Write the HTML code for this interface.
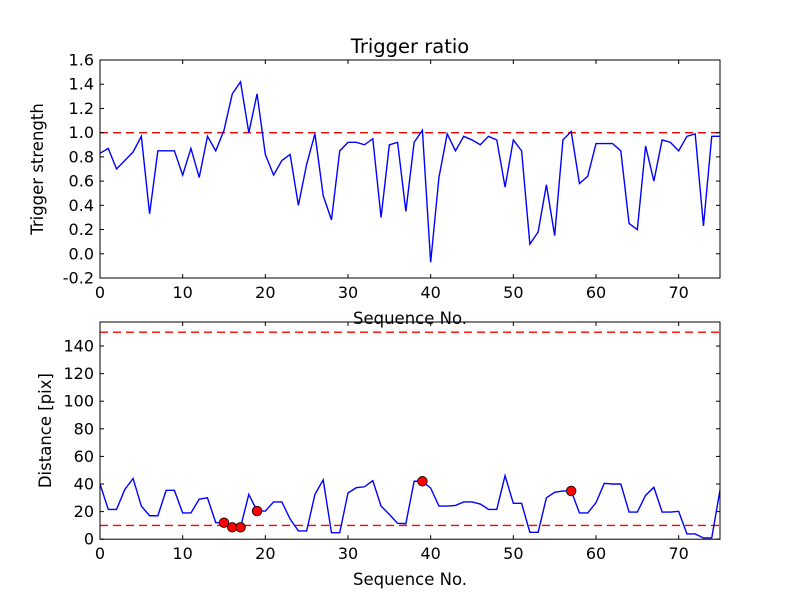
<!DOCTYPE html>
<html><head><meta charset="utf-8"><style>
html,body{margin:0;padding:0;background:#fff;}
svg text{font-family:"DejaVu Sans","Liberation Sans",sans-serif;fill:#000;}
</style></head><body>
<svg id="fig" width="800" height="600" viewBox="0 0 800 600" xmlns="http://www.w3.org/2000/svg">
<rect width="800" height="600" fill="#fff"/>
</svg>
<script>
const seq = Array.from({length:76},(_,i)=>i);
const strength = [0.83,0.87,0.70,0.77,0.84,0.97,0.33,0.85,0.85,0.85,0.65,0.87,0.63,0.97,0.85,1.02,1.32,1.42,1.0,1.32,0.82,0.65,0.77,0.82,0.40,0.74,0.99,0.48,0.28,0.85,0.92,0.92,0.90,0.95,0.30,0.90,0.92,0.35,0.92,1.02,-0.07,0.63,0.99,0.85,0.97,0.94,0.90,0.97,0.94,0.55,0.94,0.85,0.08,0.18,0.57,0.15,0.94,1.01,0.58,0.64,0.91,0.91,0.91,0.85,0.25,0.20,0.89,0.60,0.94,0.92,0.85,0.97,0.99,0.23,0.97,0.97];
const distance = [40,21.6,21.6,36,44,24,17,17,35.4,35.4,19,19,29,30,12,12,8.6,8.6,32.5,20.4,20.4,27,27,14.6,6,6,32.5,43,4.7,4.7,33.5,37.3,38,42.4,24,18,11.5,11.3,42,42,37,24,24,24.5,27,27,25.5,21.6,21.6,46,26,26,5,5,30,34,35,35,19,19,26.5,40.5,40,40,19.7,19.7,31.8,37.6,19.7,19.7,20.2,3.8,3.8,0.9,0.9,35.6];
const flagged = [15,16,17,19,39,57];
const topTicksY = [-0.2,0,0.2,0.4,0.6,0.8,1.0,1.2,1.4,1.6];
const botTicksY = [0,20,40,60,80,100,120,140];
const ticksX = [0,10,20,30,40,50,60,70];
const topThreshold = [1.0];
const botThresholds = [10,150];

const NS="http://www.w3.org/2000/svg";
const svg=document.getElementById('fig');
function mk(tag,attrs,parent){const e=document.createElementNS(NS,tag);for(const k in attrs)e.setAttribute(k,attrs[k]);(parent||svg).appendChild(e);return e;}

function panel(name,x0,x1,y0,y1,ymin,ymax,yticks,fmt,vals,thr,ylabel,title){
  const g=mk('g',{});
  
  
  const sx=v=>x0+(v-0)/(75-0)*(x1-x0);
  const sy=v=>y1-(v-ymin)/(ymax-ymin)*(y1-y0);
  const cp='cp-'+name;
  const cl=mk('clipPath',{id:cp},g);mk('rect',{x:x0,y:y0,width:x1-x0,height:y1-y0},cl);
  thr.forEach(t=>{const l=mk('line',{x1:x0,x2:x1,y1:sy(t),y2:sy(t),stroke:'#ff0000','stroke-width':1.4,'stroke-dasharray':'8,5'},g);
    
    });
  const p=mk('polyline',{points:vals.map((v,i)=>sx(seq[i])+','+sy(v)).join(' '),fill:'none',stroke:'#0000ff','stroke-width':1.4,'clip-path':'url(#'+cp+')'},g);
  
  
  mk('rect',{x:x0,y:y0,width:x1-x0,height:y1-y0,fill:'none',stroke:'#000','stroke-width':1},g);
  ticksX.forEach(t=>{const x=sx(t);
    mk('line',{x1:x,x2:x,y1:y1,y2:y1-4,stroke:'#000'},g);
    mk('line',{x1:x,x2:x,y1:y0,y2:y0+4,stroke:'#000'},g);
    const tx=mk('text',{x:x,y:y1+20,'text-anchor':'middle','font-size':16},g);tx.textContent=t;
    
    });
  yticks.forEach(t=>{const y=sy(t);
    mk('line',{x1:x0,x2:x0+4,y1:y,y2:y,stroke:'#000'},g);
    mk('line',{x1:x1,x2:x1-4,y1:y,y2:y,stroke:'#000'},g);
    const tx=mk('text',{x:x0-6,y:y+5.5,'text-anchor':'end','font-size':16},g);tx.textContent=fmt(t);
    
    });
  const xl=mk('text',{x:(x0+x1)/2,y:y1+46,'text-anchor':'middle','font-size':16.5},g);xl.textContent='Sequence No.';
  
  
  const yx=name==='top-panel'?43:51;
  const yl=mk('text',{x:yx,y:(y0+y1)/2,'text-anchor':'middle','font-size':16.5,transform:'rotate(-90 '+yx+' '+(y0+y1)/2+')'},g);yl.textContent=ylabel;
  
  
  if(title){const tt=mk('text',{x:(x0+x1)/2,y:y0-7,'text-anchor':'middle','font-size':19.5},g);tt.textContent=title;
    
    }
  return {sx,sy,g};
}
panel('top-panel',100,720,60,278,-0.2,1.6,topTicksY,t=>t.toFixed(1),strength,topThreshold,'Trigger strength','Trigger ratio');
const b=panel('bottom-panel',100,720,322,539.2,0,157.4,botTicksY,t=>String(t),distance,botThresholds,'Distance [pix]',null);
flagged.forEach(i=>{const c=mk('circle',{cx:b.sx(seq[i]),cy:b.sy(distance[i]),r:4.8,fill:'#ff0000',stroke:'#000','stroke-width':0.8},b.g);
  
  });
</script>
</body></html>
